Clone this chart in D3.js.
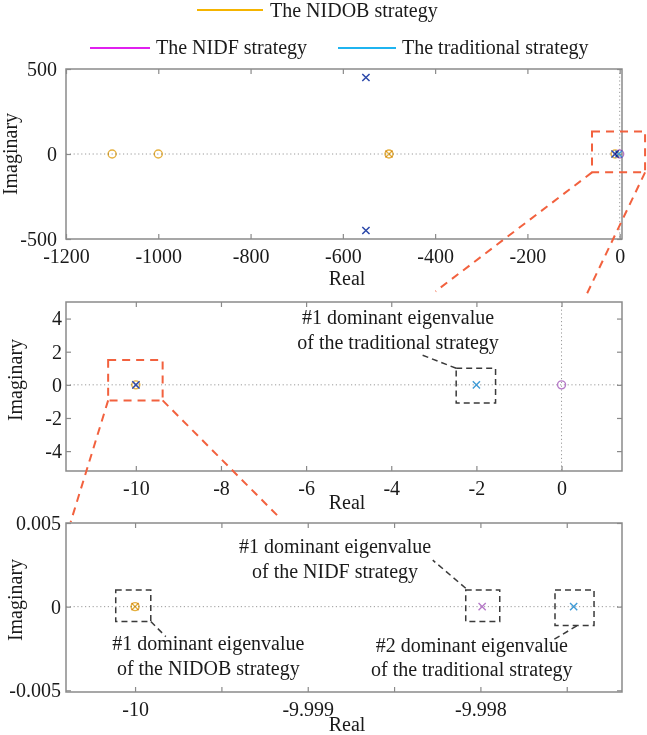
<!DOCTYPE html>
<html>
<head>
<meta charset="utf-8">
<script src="https://cdn.jsdelivr.net/npm/d3@7"></script>
<style>
  body { margin: 0; background: #fff; }
  svg text { font-family: "Liberation Serif", "Times New Roman", serif; font-size: 20px; fill: #1a1a1a; }
</style>
</head>
<body>
<svg id="fig" width="647" height="735"></svg>
<script>
// ---- data (real, imaginary) ----
const strategies = ["The NIDOB strategy", "The NIDF strategy", "The traditional strategy"];
const nidobPoles = [[-500, 0], [-10, 0]];
const nidobZeros = [[-1100, 0], [-1000, 0], [-500, 0], [-10, 0]];
const nidfPoles = [[-550, 450], [-550, -450], [-9.99799, 0]];
const nidfZeros = [[0, 0]];
const tradPoles = [[-550, 450], [-550, -450], [-2, 0], [-9.99746, 0]];
const tradZeros = [];

const topXTicks = [-1200, -1000, -800, -600, -400, -200, 0];
const topYTicks = [-500, 0, 500];
const midXTicks = [-10, -8, -6, -4, -2, 0];
const midYTicks = [-4, -2, 0, 2, 4];
const botXTicks = [-10, -9.9995, -9.999, -9.9985, -9.998, -9.9975];
const botXLabels = ["-10", "", "-9.999", "", "-9.998", ""];
const botYTicks = [-0.005, 0, 0.005];
const botYLabels = ["-0.005", "0", "0.005"];

const markerColors = ["#e6b13f", "#b67ac8", "#3f9bd6"];
const legendColors = ["#f5b400", "#e020ef", "#1fb4f0"];

// ---- layout ----
const svg = d3.select("#fig");
const left = 66, right = 622;

function makePanel(top, bottom, xDom, yDom) {
  return {
    top, bottom,
    x: d3.scaleLinear().domain(xDom).range([left, right]),
    y: d3.scaleLinear().domain(yDom).range([bottom, top])
  };
}

const pTop = makePanel(69, 239, [-1200, 5], [-500, 500]);
const pMid = makePanel(302, 471, [-11.64, 1.42], [-5.2, 5]);
const pBot = makePanel(523, 692, [-10.0004, -9.99718], [-0.0051, 0.005]);

function drawPanel(p, id, xTicks, xFmt, yTicks, yFmt, vZero, yPad, labY, imagX, imagY) {
  const g = svg.append("g");
  g.append("clipPath").attr("id", id)
    .append("rect").attr("x", left).attr("y", p.top)
    .attr("width", right - left).attr("height", p.bottom - p.top);

  // dotted zero lines
  const zg = g.append("g").attr("clip-path", `url(#${id})`)
    .attr("stroke", "#9a9a9a").attr("stroke-width", 1).attr("stroke-dasharray", "1.2,2.6");
  zg.append("line").attr("x1", left).attr("x2", right)
    .attr("y1", p.y(0)).attr("y2", p.y(0));
  if (vZero) {
    zg.append("line").attr("x1", p.x(0)).attr("x2", p.x(0))
      .attr("y1", p.top).attr("y2", p.bottom);
  }

  const styleAxis = a => {
    a.select(".domain").remove();
    a.selectAll(".tick line").attr("stroke", "#8a8a8a").attr("stroke-width", 1.2);
    a.selectAll(".tick text").attr("fill", "#1a1a1a");
  };

  g.append("g").attr("transform", `translate(0,${p.bottom})`)
    .call(d3.axisBottom(p.x).tickValues(xTicks).tickFormat(xFmt).tickSize(-5).tickPadding(10))
    .call(styleAxis);
  g.append("g").attr("transform", `translate(0,${p.top})`)
    .call(d3.axisTop(p.x).tickValues(xTicks).tickFormat("").tickSize(-5))
    .call(styleAxis);
  g.append("g").attr("transform", `translate(${left},0)`)
    .call(d3.axisLeft(p.y).tickValues(yTicks).tickFormat(yFmt).tickSize(-5).tickPadding(yPad))
    .call(styleAxis);
  g.append("g").attr("transform", `translate(${right},0)`)
    .call(d3.axisRight(p.y).tickValues(yTicks).tickFormat("").tickSize(-5))
    .call(styleAxis);

  g.append("rect").attr("x", left).attr("y", p.top)
    .attr("width", right - left).attr("height", p.bottom - p.top)
    .attr("fill", "none").attr("stroke", "#8a8a8a").attr("stroke-width", 1.5);

  g.append("text").attr("x", 347).attr("y", labY).attr("text-anchor", "middle").text("Real");
  g.append("text").attr("transform", `translate(${imagX},${imagY}) rotate(-90)`)
    .attr("text-anchor", "middle").text("Imaginary");
  return g;
}

function inside(p, d) {
  const [x0, x1] = p.x.domain(), [y0, y1] = p.y.domain();
  return d[0] >= x0 && d[0] <= x1 && d[1] >= y0 && d[1] <= y1;
}

function drawMarks(g, p, poles, zeros, color) {
  g.append("g").selectAll("circle").data(zeros.filter(d => inside(p, d))).join("circle")
    .attr("cx", d => p.x(d[0])).attr("cy", d => p.y(d[1])).attr("r", 4)
    .attr("fill", "none").attr("stroke", color).attr("stroke-width", 1.4)
    .style("mix-blend-mode", "multiply");
  const s = 3.6;
  g.append("g").selectAll("path").data(poles.filter(d => inside(p, d))).join("path")
    .attr("d", d => {
      const x = p.x(d[0]), y = p.y(d[1]);
      return `M${x - s},${y - s}L${x + s},${y + s}M${x - s},${y + s}L${x + s},${y - s}`;
    })
    .attr("fill", "none").attr("stroke", color).attr("stroke-width", 1.4)
    .style("mix-blend-mode", "multiply");
}

const fmt = d => String(d);
const gTop = drawPanel(pTop, "clipTop", topXTicks, fmt, topYTicks, fmt, true, 9, 285, 17, 154);
const gMid = drawPanel(pMid, "clipMid", midXTicks, fmt, midYTicks, fmt, true, 4, 509, 22, 380);
const gBot = drawPanel(pBot, "clipBot", botXTicks, (d, i) => botXLabels[i], botYTicks, (d, i) => botYLabels[i], false, 5, 731, 22, 600);

[[gTop, pTop], [gMid, pMid], [gBot, pBot]].forEach(([g, p]) => {
  drawMarks(g, p, nidobPoles, nidobZeros, markerColors[0]);
  // NIDF and traditional marks blend only with each other
  const iso = g.append("g").style("isolation", "isolate");
  drawMarks(iso, p, nidfPoles, nidfZeros, markerColors[1]);
  drawMarks(iso, p, tradPoles, tradZeros, markerColors[2]);
});

// ---- legend ----
const legendItems = [
  { x1: 197, x2: 263, y: 10, tx: 270, ty: 17 },
  { x1: 90, x2: 150, y: 48, tx: 156, ty: 54 },
  { x1: 338, x2: 396, y: 48, tx: 402, ty: 54 }
];
const lg = svg.append("g");
legendItems.forEach((it, i) => {
  lg.append("line").attr("x1", it.x1).attr("x2", it.x2).attr("y1", it.y).attr("y2", it.y)
    .attr("stroke", legendColors[i]).attr("stroke-width", 2.2);
  lg.append("text").attr("x", it.tx).attr("y", it.ty).text(strategies[i]);
});

// ---- zoom annotations (red dashed) ----
const red = svg.append("g").attr("fill", "none").attr("stroke", "#f2613e")
  .attr("stroke-width", 2).attr("stroke-dasharray", "8,6");
function boxPath(p, xr, yr) {
  const x0 = p.x(xr[0]), x1 = p.x(xr[1]), y0 = p.y(yr[1]), y1 = p.y(yr[0]);
  return `M${x0},${y0}H${x1}V${y1}H${x0}Z`;
}
function seg(pa, a, pb, b) {
  return `M${pa.x(a[0])},${pa.y(a[1])}L${pb.x(b[0])},${pb.y(b[1])}`;
}
const topBox = [[-60, 55], [-108, 133]];
const midBox = [[-10.65, -9.37], [-0.94, 1.5]];
red.append("path").attr("d", boxPath(pTop, topBox[0], topBox[1]));
red.append("path").attr("d", seg(pTop, [-60, -108], pMid, [-2.96, 5.64]));
red.append("path").attr("d", seg(pTop, [55, -108], pMid, [0.6, 5.52]));
red.append("path").attr("d", boxPath(pMid, midBox[0], midBox[1]));
red.append("path").attr("d", seg(pMid, [-10.65, -0.94], pBot, [-10.000373, 0.00506]));
red.append("path").attr("d", seg(pMid, [-9.37, -0.94], pBot, [-9.999167, 0.00536]));

// ---- eigenvalue callouts (black dashed) ----
const blk = svg.append("g").attr("fill", "none").attr("stroke", "#3a3a3a")
  .attr("stroke-width", 1.5).attr("stroke-dasharray", "6,4");
const callouts = [
  { p: pMid, bx: [-2.475, -1.55], by: [-1.1, 1.0], from: [-2.475, 1.0], to: [-3.335, 1.86],
    tx: -3.84, ty: [3.68, 2.18], lines: ["#1 dominant eigenvalue", "of the traditional strategy"] },
  { p: pBot, bx: [-10.000112, -9.999909], by: [-0.00089, 0.001], from: [-9.999909, -0.00089], to: [-9.999822, -0.00179],
    tx: -9.999576, ty: [-0.00258, -0.00407], lines: ["#1 dominant eigenvalue", "of the NIDOB strategy"] },
  { p: pBot, bx: [-9.998085, -9.997888], by: [-0.00089, 0.001], from: [-9.998085, 0.0011], to: [-9.998276, 0.00278],
    tx: -9.998842, ty: [0.0032, 0.00171], lines: ["#1 dominant eigenvalue", "of the NIDF strategy"] },
  { p: pBot, bx: [-9.997568, -9.997342], by: [-0.00113, 0.001], from: [-9.997442, -0.00115], to: [-9.997578, -0.00198],
    tx: -9.99805, ty: [-0.00268, -0.00417], lines: ["#2 dominant eigenvalue", "of the traditional strategy"] }
];
callouts.forEach(c => {
  blk.append("path").attr("d", boxPath(c.p, c.bx, c.by));
  blk.append("path").attr("d", seg(c.p, c.from, c.p, c.to));
  c.lines.forEach((t, i) => {
    svg.append("text").attr("x", c.p.x(c.tx)).attr("y", c.p.y(c.ty[i]))
      .attr("text-anchor", "middle").text(t);
  });
});
</script>
</body>
</html>
